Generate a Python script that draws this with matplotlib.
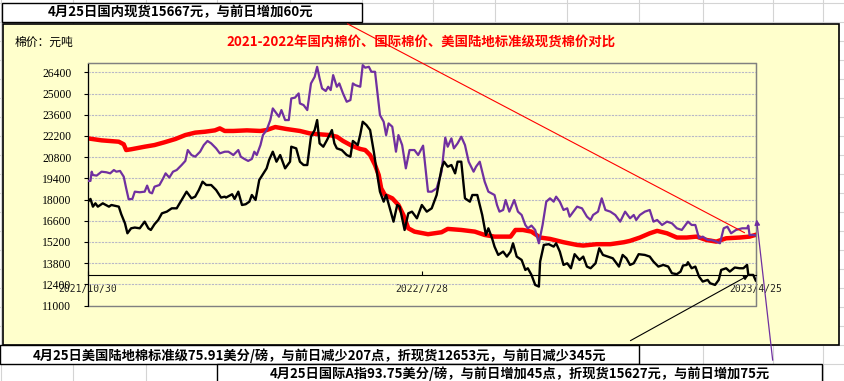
import matplotlib
matplotlib.use('Agg')
import matplotlib.pyplot as plt
from matplotlib.patches import Rectangle, FancyArrowPatch
from matplotlib.lines import Line2D

plt.rcParams['font.family'] = ['Noto Sans CJK SC', 'DejaVu Sans']

# days counted from 2021/10/30
cn_days = [
    0, 11, 25, 29, 31, 35, 46, 54, 62, 71,
    79, 87, 95, 103, 107, 111, 118, 129, 140, 145,
    152, 161, 172, 180, 188, 196, 202, 207, 214, 221,
    225, 229, 233, 236, 238, 241, 247, 252, 256, 260,
    265, 276, 287, 292, 303, 314, 322, 330, 332, 343,
    347, 353, 360, 367, 375, 386, 397, 402, 413, 424,
    435, 440, 448, 456, 462, 470, 478, 486, 494, 502,
    510, 518, 529, 537, 542]
cn_price = [
    22040, 21910, 21820, 21650, 21270, 21320, 21490, 21600, 21780, 22000,
    22260, 22420, 22480, 22570, 22700, 22530, 22530, 22570, 22530, 22590,
    22790, 22660, 22530, 22370, 22310, 22260, 22150, 21870, 21560, 21340,
    21270, 20940, 20280, 19620, 18740, 18300, 18080, 17640, 16980, 16100,
    15880, 15710, 15840, 16060, 15990, 15880, 15660, 15550, 15550, 15550,
    15990, 15990, 15880, 15490, 15400, 15180, 15000, 14960, 15050, 15050,
    15180, 15270, 15490, 15770, 15930, 15770, 15490, 15490, 15550, 15330,
    15220, 15440, 15490, 15550, 15667]

a_days = [
    0, 2, 3, 4, 7, 11, 15, 18, 21, 23,
    26, 29, 31, 33, 36, 38, 42, 46, 48, 50,
    52, 54, 58, 61, 63, 66, 69, 72, 76, 79,
    81, 84, 87, 91, 94, 97, 100, 104, 107, 111,
    114, 118, 122, 124, 127, 130, 133, 135, 137, 140,
    142, 145, 148, 150, 153, 155, 157, 160, 163, 165,
    168, 171, 172, 175, 178, 181, 184, 186, 188, 190,
    193, 195, 197, 199, 202, 204, 207, 210, 213, 215,
    217, 221, 223, 225, 228, 230, 233, 237, 240, 242,
    244, 247, 250, 252, 255, 258, 261, 265, 268, 272,
    276, 279, 283, 287, 290, 292, 295, 297, 300, 303,
    306, 309, 313, 315, 318, 322, 325, 330, 332, 334,
    337, 339, 342, 346, 349, 352, 355, 357, 360, 363,
    366, 369, 372, 375, 378, 380, 383, 386, 389, 391,
    394, 397, 401, 405, 408, 410, 414, 417, 420, 424,
    428, 432, 436, 440, 443, 445, 448, 452, 456, 459,
    462, 466, 470, 474, 478, 482, 485, 487, 490, 493,
    496, 499, 503, 506, 510, 513, 516, 519, 522, 526,
    531, 535, 536, 537, 540, 542]
a_price = [
    19230, 19230, 19840, 19620, 19580, 19840, 19800, 19730, 19950, 19840,
    19890, 19510, 18740, 18020, 18040, 18520, 18480, 18520, 18920, 18480,
    18410, 18850, 18960, 19400, 19730, 19450, 19840, 19950, 20280, 20550,
    21270, 20940, 20830, 21160, 21600, 21870, 21710, 21380, 21050, 21160,
    21160, 20940, 21270, 20830, 20680, 20550, 20680, 21160, 20940, 21600,
    22260, 22590, 23250, 24020, 23690, 23470, 23910, 23250, 23250, 24680,
    24730, 25010, 24350, 24240, 23910, 25670, 26110, 26770, 26000, 25340,
    25170, 25450, 25230, 26220, 25450, 25670, 25010, 24460, 24570, 25670,
    25560, 25450, 26880, 26710, 26770, 26440, 26440, 23580, 23140, 22260,
    23030, 22810, 21160, 22260, 21600, 20060, 21270, 21270, 20940, 21560,
    18520, 18520, 18740, 19840, 22090, 21490, 22040, 21380, 21710, 22150,
    21600, 20500, 19840, 20170, 20500, 19180, 18520, 18300, 17640, 17200,
    17310, 17970, 17200, 17970, 17200, 16980, 16320, 16100, 16280, 15990,
    15110, 16320, 17860, 18080, 17860, 18190, 17860, 17310, 17420, 16870,
    17200, 17530, 17420, 16870, 16650, 16980, 17200, 18080, 17310, 17200,
    16980, 16540, 17200, 16760, 16980, 16650, 16980, 17200, 17310, 16540,
    16650, 16320, 16540, 16430, 16100, 15990, 16320, 16540, 16320, 16320,
    15440, 15550, 15330, 15330, 15220, 15110, 16100, 16210, 15770, 15990,
    16100, 16100, 16280, 15660, 15660, 15627]

us_days = [
    0, 2, 4, 6, 8, 12, 17, 19, 25, 27,
    30, 32, 35, 38, 42, 46, 49, 51, 54, 57,
    60, 64, 68, 72, 76, 80, 84, 87, 90, 93,
    96, 100, 104, 108, 111, 112, 117, 119, 122, 125,
    128, 131, 133, 136, 139, 142, 145, 147, 150, 153,
    156, 160, 164, 165, 169, 172, 175, 178, 181, 184,
    186, 188, 191, 194, 198, 200, 202, 206, 210, 213,
    215, 219, 221, 223, 226, 229, 232, 234, 237, 240,
    242, 245, 248, 251, 253, 257, 260, 263, 267, 271,
    275, 279, 283, 287, 289, 292, 295, 298, 300, 303,
    306, 310, 312, 316, 320, 323, 325, 328, 330, 333,
    337, 340, 343, 345, 348, 352, 355, 357, 360, 363,
    366, 367, 370, 374, 378, 380, 383, 386, 389, 392,
    395, 399, 402, 405, 408, 412, 415, 418, 422, 426,
    431, 434, 437, 440, 443, 447, 452, 456, 459, 463,
    467, 471, 474, 478, 481, 483, 486, 487, 490, 493,
    496, 499, 503, 505, 509, 512, 514, 518, 521, 525,
    529, 532, 535, 536, 540, 542]
us_price = [
    17860, 18040, 17530, 17750, 17530, 17750, 17530, 17640, 17530, 17030,
    16430, 15770, 16100, 16150, 16100, 16540, 16100, 15990, 16370, 16650,
    17090, 17200, 17420, 17420, 17970, 18520, 18080, 18190, 18630, 19180,
    18960, 18960, 18630, 18130, 18190, 18130, 18350, 18040, 18520, 17640,
    17690, 17860, 18300, 17970, 19290, 19670, 20060, 20610, 21160, 20500,
    20940, 20060, 20500, 21490, 21380, 20500, 20280, 20280, 22150, 22590,
    23250, 21710, 21490, 21930, 22590, 21710, 21380, 21270, 20940, 20830,
    21870, 21600, 22300, 23140, 22920, 22590, 21160, 20060, 18520, 17860,
    18300, 17420, 16540, 17640, 17530, 15990, 17090, 17200, 16760, 17640,
    17200, 17420, 18300, 20060, 20500, 20170, 20280, 19730, 20500, 20500,
    18080, 17860, 18300, 18300, 16980, 15660, 16100, 15440, 14890, 14340,
    14560, 14230, 14560, 15110, 14230, 14010, 13350, 13460, 13020, 12360,
    12250, 13900, 15000, 15050, 14890, 15110, 14560, 13680, 13790, 13460,
    14390, 14010, 14230, 13570, 13460, 13790, 14780, 14340, 14230, 14120,
    13570, 14340, 14120, 13680, 13790, 14390, 14340, 14230, 13900, 13570,
    13680, 13570, 13130, 13070, 13240, 13640, 13680, 13860, 13460, 13570,
    12910, 12580, 12690, 12470, 12360, 12690, 13350, 13460, 13240, 13510,
    13460, 13460, 13680, 13020, 13020, 12653]

x_ticks = [0, 271, 542]
x_labels = ['2021/10/30', '2022/7/28', '2023/4/25']
y_ticks = list(range(11000, 26401, 1400))

title = '2021-2022年国内棉价、国际棉价、美国陆地标准级现货棉价对比'
unit_text = '棉价：元吨'
top_note = '4月25日国内现货15667元，与前日增加60元'
us_note = '4月25日美国陆地棉标准级75.91美分/磅，与前日减少207点，折现货12653元，与前日减少345元'
a_note = '4月25日国际A指93.75美分/磅，与前日增加45点，折现货15627元，与前日增加75元'

assert len(cn_days) == len(cn_price)
assert len(a_days) == len(a_price)
assert len(us_days) == len(us_price)

W, H = 845, 381


def fx(px):
    return px / W


def fy(py):
    return 1 - py / H


fig = plt.figure(figsize=(W / 100, H / 100), dpi=100)
fig.patch.set_facecolor('white')

# spreadsheet cells behind the chart
cell_c = '#d4d4d4'
for cx in [1, 73, 146, 217, 290, 362, 433, 495, 567, 639, 703, 773, 823]:
    fig.add_artist(Line2D([fx(cx)] * 2, [0, 1], color=cell_c, lw=0.8, zorder=-3))
for k in range(21):
    ry = 2.7 + 19 * k
    fig.add_artist(Line2D([0, 1], [fy(ry)] * 2, color=cell_c, lw=0.8, zorder=-3))

# chart area
fig.add_artist(Rectangle((fx(3), fy(344.5)), fx(839) - fx(3), fy(24) - fy(344.5),
                         facecolor='#ffffcc', edgecolor='black', lw=1.2, zorder=-1))

ax = fig.add_axes([fx(88), fy(305.5), (755.7 - 88) / W, (305.5 - 63.3) / H])
ax.set_facecolor('#ffffcc')

# category axis crosses at 13000 (set before the ticks, it resets them)
for s in ['top', 'right']:
    ax.spines[s].set_color('#808080')
ax.spines['left'].set_color('black')
ax.spines['bottom'].set_position(('data', 13000))
ax.spines['bottom'].set_color('black')

ax.set_xlim(0, 542)
ax.set_ylim(11000, 27000)

ax.set_yticks(y_ticks)
ax.set_yticklabels([str(v) for v in y_ticks], fontfamily='Liberation Serif', fontsize=8.4)
ax.tick_params(axis='y', direction='out', length=3, pad=9, color='black')
ax.yaxis.grid(True, color='#b8b8c8', lw=0.8, ls=(0, (2, 1)))
ax.set_axisbelow(True)

ax.set_xticks(x_ticks)
ax.set_xticklabels(x_labels, fontfamily='DejaVu Sans Mono', fontsize=7, color='#222222')
ax.tick_params(axis='x', direction='in', length=3, pad=6)

ax.add_patch(Rectangle((0, 0), 1, 1, transform=ax.transAxes, fill=False,
                       edgecolor='#808080', lw=1, zorder=0.5, clip_on=False))

ax.plot(cn_days, cn_price, color='#ff0000', lw=3.2, zorder=2)
ax.plot(a_days, a_price, color='#7030a0', lw=1.6, zorder=3)
ax.plot(us_days, us_price, color='black', lw=1.7, zorder=4)

# texts
fig.text(fx(15), fy(42), unit_text, fontsize=8.5, ha='left', va='center')
fig.text(fx(421.5), fy(42), title, fontsize=9.6, fontweight='bold', color='#ff0000',
         ha='center', va='center')

fig.add_artist(Rectangle((fx(2), fy(21.7)), fx(362) - fx(2), fy(2.7) - fy(21.7),
                         facecolor='white', edgecolor='black', lw=1, zorder=3))
fig.text(fx(181), fy(12.5), top_note, fontsize=9.6, fontweight='bold', ha='center',
         va='center', zorder=4)

fig.add_artist(Rectangle((fx(0), fy(363.7)), fx(639), fy(344.7) - fy(363.7),
                         facecolor='white', edgecolor='black', lw=1, zorder=3))
fig.text(fx(319.5), fy(355.5), us_note, fontsize=9.5, fontweight='bold', ha='center',
         va='center', zorder=4)

fig.add_artist(Rectangle((fx(217), fy(390)), fx(822) - fx(217), fy(363.7) - fy(390),
                         facecolor='white', edgecolor='black', lw=1, zorder=3))
fig.text(fx(520), fy(374), a_note, fontsize=9.5, fontweight='bold', ha='center',
         va='center', zorder=4)

# connector lines
fig.add_artist(FancyArrowPatch((fx(345), fy(22.5)), (fx(747), fy(234)),
                               transform=fig.transFigure, arrowstyle='-',
                               color='#ff0000', lw=0.8, zorder=5))
fig.add_artist(FancyArrowPatch((fx(628), fy(342)), (fx(751), fy(274)),
                               transform=fig.transFigure, arrowstyle='-|>',
                               mutation_scale=7, color='black', lw=0.8, zorder=5))
fig.add_artist(FancyArrowPatch((fx(773), fy(363)), (fx(756.3), fy(216.7)),
                               transform=fig.transFigure, arrowstyle='-|>',
                               mutation_scale=8, color='#7030a0', lw=0.9, zorder=5))

fig.savefig('out.png', dpi=100)
